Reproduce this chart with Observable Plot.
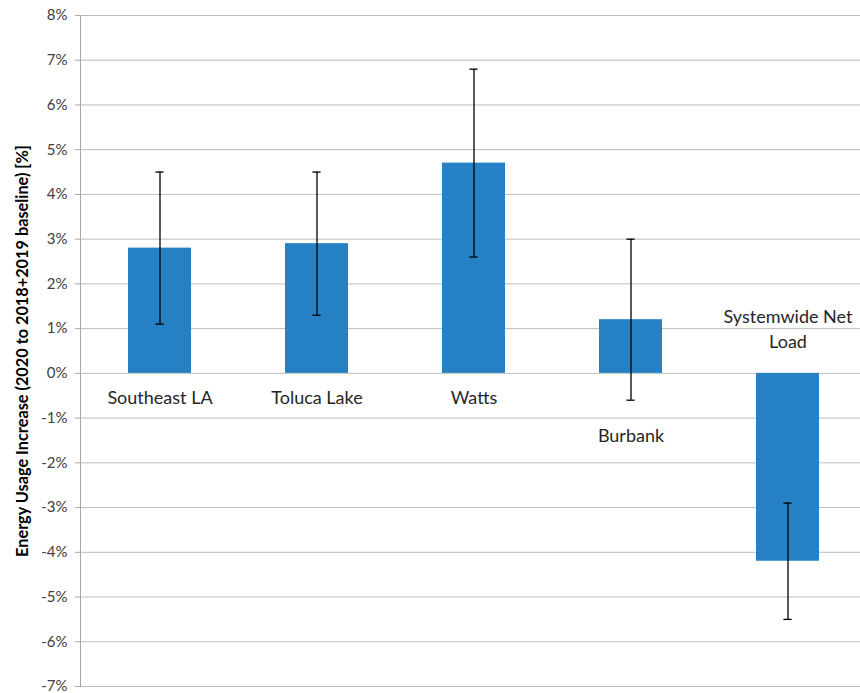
<!DOCTYPE html>
<html>
<head>
<meta charset="utf-8">
<script src="https://cdn.jsdelivr.net/npm/d3@7"></script>
<script src="https://cdn.jsdelivr.net/npm/@observablehq/plot@0.6"></script>
<style>
  html, body { margin: 0; padding: 0; background: #fff; }
  svg { display: block; }
</style>
</head>
<body>
<div id="chart"></div>
<script>
// Energy usage change by area, 2020 vs. 2018+2019 baseline, with uncertainty ranges
const areas = ["Southeast LA", "Toluca Lake", "Watts", "Burbank", "Systemwide Net Load"];
const areaLabels = ["Southeast LA", "Toluca Lake", "Watts", "Burbank", "Systemwide Net\nLoad"];
const increase = [2.8, 2.9, 4.7, 1.2, -4.2];
const errLow = [1.1, 1.3, 2.6, -0.6, -5.5];
const errHigh = [4.5, 4.5, 6.8, 3.0, -2.9];
const yTicks = [-7, -6, -5, -4, -3, -2, -1, 0, 1, 2, 3, 4, 5, 6, 7, 8];
const yTitle = "Energy Usage Increase (2020 to 2018+2019 baseline) [%]";

const rows = areas.map((name, i) => ({
  name, label: areaLabels[i], value: increase[i], low: errLow[i], high: errHigh[i]
}));

const font = "Lato, 'Open Sans', sans-serif";
const barColor = "#2581c3";

// label placement: below zero for positive bars, below the error range if it
// dips under zero, above zero for negative bars
const belowZero = rows.filter(d => d.value >= 0 && d.low >= 0);
const belowRange = rows.filter(d => d.value >= 0 && d.low < 0);
const aboveZero = rows.filter(d => d.value < 0);

const chart = Plot.plot({
  width: 860,
  height: 693,
  marginLeft: 80,
  marginRight: 0,
  marginTop: 15,
  marginBottom: 7,
  style: { fontFamily: font, background: "#fff" },
  x: { type: "band", domain: areas, range: [80, 866], paddingInner: 0.6, paddingOuter: 0.3, axis: null },
  y: { domain: [-7, 8], axis: null },
  marks: [
    Plot.gridY(yTicks, { stroke: "#bcbcbc", strokeOpacity: 1, strokeWidth: 1 }),
    Plot.frame({ anchor: "left", stroke: "#a6a6a6", strokeWidth: 1 }),
    Plot.axisY(yTicks, {
      tickSize: 5,
      tickPadding: 8,
      stroke: "#a6a6a6",
      fill: "#404040",
      fontSize: 15,
      tickFormat: d => d + "%",
      label: null
    }),
    Plot.text([yTitle], {
      frameAnchor: "left",
      textAnchor: "middle",
      dx: -58,
      rotate: -90,
      fontSize: 16.3,
      fontWeight: "bold",
      fill: "#000"
    }),
    Plot.barY(rows, { x: "name", y: "value", fill: barColor }),
    Plot.ruleX(rows, { x: "name", y1: "low", y2: "high", stroke: "#000", strokeWidth: 1.3 }),
    Plot.tickY(rows, { x: "name", y: "low", stroke: "#000", strokeWidth: 1.3, insetLeft: 27.4, insetRight: 27.4 }),
    Plot.tickY(rows, { x: "name", y: "high", stroke: "#000", strokeWidth: 1.3, insetLeft: 27.4, insetRight: 27.4 }),
    Plot.text(belowZero, { x: "name", y: () => 0, text: "label", dy: 25, fontSize: 18, fill: "#262626" }),
    Plot.text(belowRange, { x: "name", y: "low", text: "label", dy: 36, fontSize: 18, fill: "#262626" }),
    Plot.text(aboveZero, { x: "name", y: () => 0, text: "label", dy: -45.5, lineHeight: 1.39, fontSize: 18, fill: "#262626" })
  ]
});

document.getElementById("chart").append(chart);
</script>
</body>
</html>
